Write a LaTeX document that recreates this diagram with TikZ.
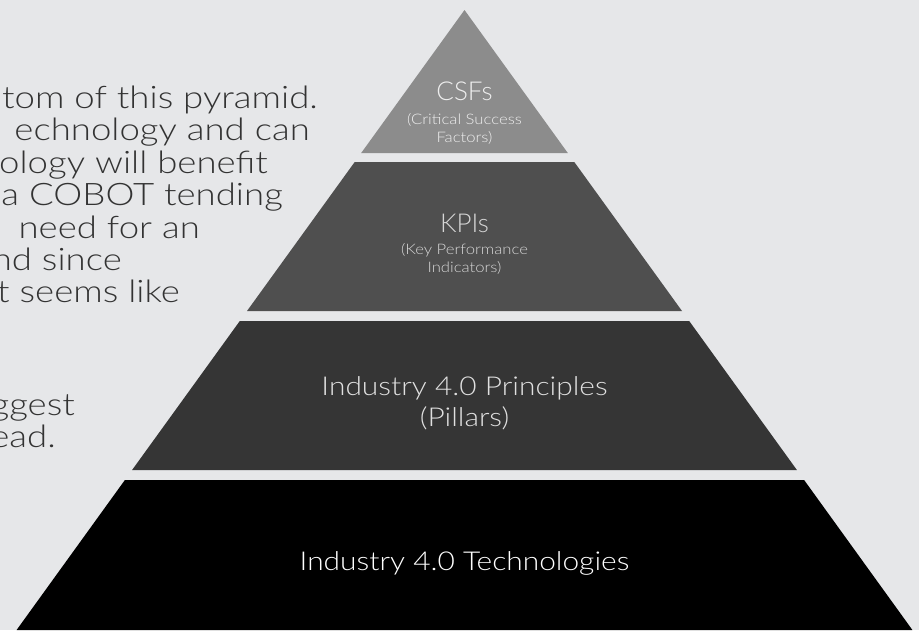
\documentclass[tikz,border=0pt]{standalone}
\usepackage{fontspec}
\setmainfont{Lato}
\newfontfamily\bodywide{Lato Light}[FakeStretch=1.18]
\newfontfamily\lightwide{Lato Light}[FakeStretch=1.15]
\newfontfamily\lightplain{Lato Light}
\definecolor{bg}{HTML}{E6E7E9}
\definecolor{tierCSF}{HTML}{8C8C8C}
\definecolor{tierKPI}{HTML}{4F4F4F}
\definecolor{tierPIL}{HTML}{353535}
\definecolor{tierTEC}{HTML}{000000}
\definecolor{bodytext}{HTML}{333333}
\definecolor{csftext}{HTML}{EEEEEE}
\definecolor{kpitext}{HTML}{D6D6D6}
\definecolor{piltext}{HTML}{E0E0E0}
\tikzset{
  body/.style={anchor=base east, inner sep=0pt, text=bodytext, font=\bodywide\fontsize{31}{31}\selectfont},
  lbl/.style={anchor=base, inner sep=0pt},
  head/.style={lbl, font=\lightplain\fontsize{26}{26}\selectfont},
  big/.style={lbl, font=\lightwide\fontsize{26}{26}\selectfont},
  small/.style={lbl, font=\lightwide\fontsize{14.5}{14.5}\selectfont},
}
\begin{document}
\begin{tikzpicture}[x=1pt,y=-1pt]
\fill[bg] (0,0) rectangle (919,630);
\useasboundingbox (0,0) rectangle (919,630);
\clip (0,0) rectangle (919,630);

% paragraph running in from the left edge
\node[body] (l1) at (318,108) {tom of this pyramid.};
\node[body] (l2) at (310,140) {echnology and can};
\node[body] (l3) at (268,173) {ology will benefit};
\node[body] (l4) at (283,205) {a COBOT tending};
\node[body] (l5) at (200,238) {need for an};
\node[body] (l6) at (122,270) {nd since};
\node[body] (l7) at (180,302) {t seems like};
\node[body] (l8) at (75,415) {ggest};
\node[body] (l9) at (56,447) {ead.};

% pyramid tiers
\fill[tierCSF] (464.5,10) -- (567.8,153) -- (361.2,153) -- cycle;
\fill[tierKPI] (354.7,162) -- (574.3,162) -- (682,311) -- (247,311) -- cycle;
\fill[tierPIL] (239.8,321) -- (689.2,321) -- (796.9,470) -- (132.1,470) -- cycle;
\fill[tierTEC] (124.9,480) -- (804.1,480) -- (912.4,630) -- (16.6,630) -- cycle;

% tier labels
\node[head,text=csftext] (csf) at (464.5,100) {CSFs};
\node[small,text=csftext] (csf1) at (464.5,124) {(Critical Success};
\node[small,text=csftext] (csf2) at (464.5,142) {Factors)};
\node[head,text=kpitext] (kpi) at (464.5,232) {KPIs};
\node[small,text=kpitext] (kpi1) at (464.5,254) {(Key Performance};
\node[small,text=kpitext] (kpi2) at (464.5,272) {Indicators)};
\node[big,text=piltext] (pil) at (464.5,395) {Industry 4.0 Principles};
\node[big,text=piltext] (pil1) at (464.5,426) {(Pillars)};
\node[big,text=white] (tec) at (464.5,570) {Industry 4.0 Technologies};
\end{tikzpicture}
\end{document}
